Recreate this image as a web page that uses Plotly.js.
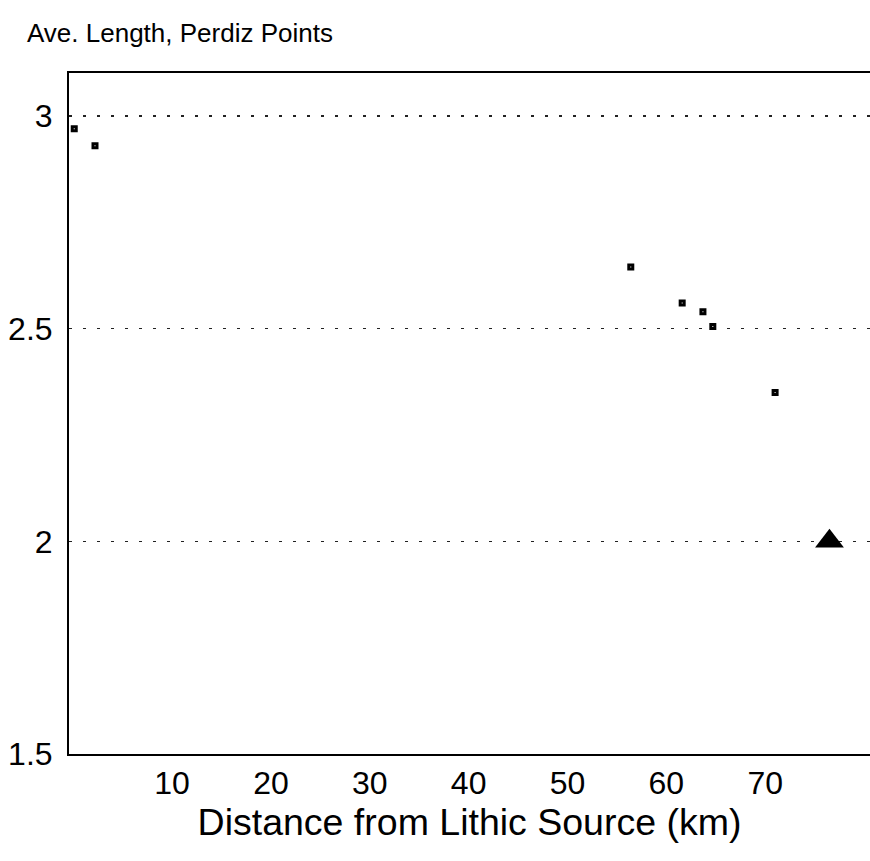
<!DOCTYPE html>
<html>
<head>
<meta charset="utf-8">
<script src="https://cdn.plot.ly/plotly-3.0.1.min.js"></script>
<style>html,body{margin:0;padding:0;background:#fff;}</style>
</head>
<body>
<div id="chart" style="width:870px;height:861px;"></div>
<script>
// Distance from lithic source (km) and average length of Perdiz points
const siteDistance = [0.1, 2.2, 56.4, 61.6, 63.7, 64.7, 71.0];
const siteLength   = [2.97, 2.93, 2.645, 2.56, 2.54, 2.505, 2.35];
const highlightDistance = [76.5];
const highlightLength   = [2.0];
const xTickValues = [10, 20, 30, 40, 50, 60, 70];
const yTickValues = [1.5, 2, 2.5, 3];
const yTickLabels = ["1.5", "2", "2.5", "3"];

const FONT = "Liberation Sans, Arial, Helvetica, sans-serif";

const traces = [
  {
    type: "scatter", mode: "markers",
    x: siteDistance, y: siteLength,
    marker: {symbol: "square-open", size: 4, color: "#000", line: {color: "#000", width: 3}},
    showlegend: false, cliponaxis: false
  },
  {
    type: "scatter", mode: "markers",
    x: highlightDistance, y: highlightLength,
    marker: {symbol: "triangle-up", size: 25, color: "#000", line: {width: 0}},
    showlegend: false, cliponaxis: false
  }
];

const layout = {
  width: 870, height: 861,
  margin: {l: 69, r: 0, t: 73, b: 107},
  paper_bgcolor: "#fff", plot_bgcolor: "#fff",
  font: {family: FONT, color: "#000"},
  title: {
    text: "Ave. Length, Perdiz Points",
    font: {family: FONT, size: 26, color: "#000"},
    xref: "container", yref: "container",
    x: 27/870, xanchor: "left",
    y: 1 - 33/861, yanchor: "middle"
  },
  xaxis: {
    range: [-0.43, 80.6],
    tickvals: xTickValues,
    ticktext: xTickValues.map(String),
    ticks: "", showgrid: false, zeroline: false,
    showline: true, linecolor: "#000", linewidth: 2, mirror: true,
    tickfont: {family: FONT, size: 32, color: "#000"},
    title: {text: "Distance from Lithic Source (km)", font: {family: FONT, size: 37.5, color: "#000"}, standoff: 6},
    automargin: false
  },
  yaxis: {
    range: [1.5, 3.101],
    tickvals: yTickValues,
    ticktext: yTickLabels,
    ticks: "", zeroline: false,
    showline: true, linecolor: "#000", linewidth: 2, mirror: false,
    showgrid: true, gridcolor: "#222", gridwidth: 1.5, griddash: "3px,11px",
    tickfont: {family: FONT, size: 32, color: "#000"},
    ticklabelstandoff: 8,
    automargin: false
  }
};

Plotly.newPlot("chart", traces, layout, {staticPlot: true, displayModeBar: false});
</script>
</body>
</html>
